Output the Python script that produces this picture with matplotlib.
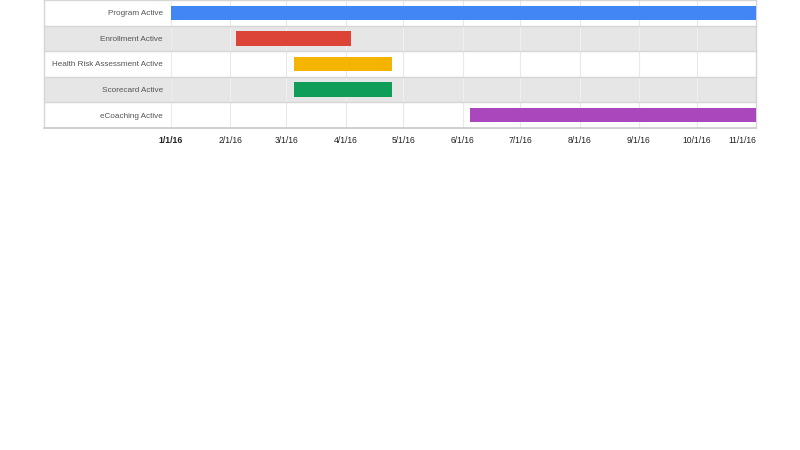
import matplotlib
matplotlib.use("Agg")
import matplotlib.pyplot as plt
import matplotlib.dates as mdates
from matplotlib.patches import Rectangle
from matplotlib.transforms import blended_transform_factory
from datetime import datetime

plt.rcParams['font.family'] = ['Liberation Sans', 'DejaVu Sans']

tasks = ["Program Active", "Enrollment Active", "Health Risk Assessment Active",
         "Scorecard Active", "eCoaching Active"]
starts = ["2016-01-01", "2016-02-04", "2016-03-05", "2016-03-05", "2016-06-05"]
ends = ["2016-11-01", "2016-04-04", "2016-04-25", "2016-04-25", "2016-11-01"]
colors = ["#4285f4", "#db4437", "#f4b400", "#0f9d58", "#ab47bc"]
tick_dates = ["2016-01-01", "2016-02-01", "2016-03-01", "2016-04-01", "2016-05-01",
              "2016-06-01", "2016-07-01", "2016-08-01", "2016-09-01", "2016-10-01",
              "2016-11-01"]
tick_labels = ["1/1/16", "2/1/16", "3/1/16", "4/1/16", "5/1/16", "6/1/16",
               "7/1/16", "8/1/16", "9/1/16", "10/1/16", "11/1/16"]

W, H = 800, 450
fig = plt.figure(figsize=(8, 4.5), dpi=100)
left_px, right_px, top_px, bot_px = 171, 756, 0, 128
ax = fig.add_axes([left_px / W, 1 - bot_px / H, (right_px - left_px) / W, (bot_px - top_px) / H])

d0 = mdates.date2num(datetime.fromisoformat(tick_dates[0]))
d1 = mdates.date2num(datetime.fromisoformat(tick_dates[-1]))
ax.set_xlim(d0, d1)
n = len(tasks)
ax.set_ylim(n - 0.5, -0.5)

trans = blended_transform_factory(fig.transFigure, ax.transData)
ticks_num = [mdates.date2num(datetime.fromisoformat(t)) for t in tick_dates]

for i in range(n):
    bg = "#ffffff" if i % 2 == 0 else "#e6e6e6"
    ax.add_patch(Rectangle((44 / W, i - 0.5), (right_px - 44) / W, 1.0, transform=trans,
                           facecolor=bg, edgecolor="none", clip_on=False, zorder=0))
    gc = "#e8e8e8" if i % 2 == 0 else "#f0f0f0"
    for t in ticks_num[1:-1]:
        ax.plot([t, t], [i - 0.5, i + 0.5], color=gc, lw=0.8, zorder=1)
    ax.plot([44 / W, right_px / W], [i - 0.5, i - 0.5], transform=trans, color="#d6d6d6",
            lw=1.0, clip_on=False, zorder=2)
    ax.text((left_px - 8) / W, i, tasks[i], transform=trans, ha="right", va="center_baseline",
            fontsize=5.85, color="#555555")

ax.plot([44 / W, right_px / W], [n - 0.5, n - 0.5], transform=trans, color="#c8c8c8",
        lw=1.2, clip_on=False, zorder=2)
ax.plot([44 / W, 44 / W], [-0.5, n - 0.5], transform=trans, color="#d6d6d6",
        lw=1.0, clip_on=False, zorder=2)
ax.plot([right_px / W, right_px / W], [-0.5, n - 0.5], transform=trans, color="#d6d6d6",
        lw=1.0, clip_on=False, zorder=2)
ax.plot([left_px / W, left_px / W], [-0.5, n - 0.5], transform=trans, color="#ececec",
        lw=0.8, clip_on=False, zorder=1)

for i in range(n):
    s = mdates.date2num(datetime.fromisoformat(starts[i]))
    e = mdates.date2num(datetime.fromisoformat(ends[i]))
    ax.barh(i, e - s, left=s, height=0.56, color=colors[i], zorder=3)

for sp in ax.spines.values():
    sp.set_visible(False)
ax.set_yticks([])
ax.set_xticks(ticks_num)
ax.set_xticklabels(tick_labels, fontsize=6.2, color="#222222")
labels = ax.get_xticklabels()
labels[0].set_fontweight("bold")
labels[-1].set_horizontalalignment("right")
ax.tick_params(axis="x", length=0, pad=6)
ax.patch.set_visible(False)

fig.savefig("out.png", dpi=100, facecolor="white")
